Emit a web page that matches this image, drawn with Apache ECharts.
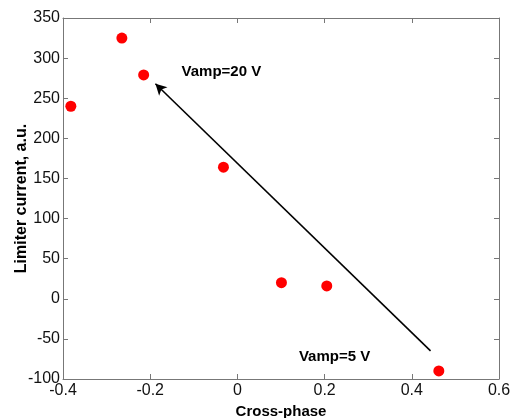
<!DOCTYPE html>
<html>
<head>
<meta charset="utf-8">
<script src="https://cdn.jsdelivr.net/npm/echarts@6/dist/echarts.min.js"></script>
<style>
  html, body { margin: 0; padding: 0; background: #fff; }
  #chart { width: 512px; height: 418px; }
</style>
</head>
<body>
<div id="chart"></div>
<script>
// Measured points: cross-phase vs limiter current
var crossPhase = [-0.382, -0.265, -0.215, -0.032, 0.101, 0.205, 0.462];
var limiterCurrent = [240, 325, 279, 164, 20, 16, -90];

// Arrow from the 5 V end toward the 20 V end
var arrowFrom = [0.443, -65];
var arrowTo = [-0.188, 268];

// Annotation texts and their anchor points (data coordinates)
var noteTexts = ['Vamp=20 V', 'Vamp=5 V'];
var noteAnchors = [[-0.128, 283], [0.141, -72]];

var xTicks = { min: -0.4, max: 0.6, interval: 0.2 };
var yTicks = { min: -100, max: 350, interval: 50 };

var points = crossPhase.map(function (x, i) { return [x, limiterCurrent[i]]; });

var axisGray = '#777777';
var font = 'Liberation Sans, Arial, sans-serif';

function frameAxis(base) {
  return Object.assign({
    type: 'value',
    axisLine: { show: true, onZero: false, lineStyle: { color: axisGray, width: 1 } },
    axisTick: { show: true, inside: true, length: 5, lineStyle: { color: axisGray } },
    splitLine: { show: false }
  }, base);
}

var chart = echarts.init(document.getElementById('chart'), null, { renderer: 'canvas' });
chart.setOption({
  animation: false,
  backgroundColor: '#ffffff',
  grid: { left: 63, right: 13, top: 18, bottom: 39, containLabel: false, outerBoundsMode: 'none' },
  xAxis: [
    frameAxis({
      position: 'bottom',
      min: xTicks.min, max: xTicks.max, interval: xTicks.interval,
      name: 'Cross-phase',
      nameLocation: 'middle',
      nameGap: 25,
      nameMoveOverlap: false,
      nameTextStyle: { fontFamily: font, fontWeight: 'bold', fontSize: 15, color: '#000' },
      axisLabel: { fontFamily: font, fontSize: 16, color: '#111', margin: 4 }
    }),
    frameAxis({
      position: 'top',
      min: xTicks.min, max: xTicks.max, interval: xTicks.interval,
      axisLabel: { show: false }
    })
  ],
  yAxis: [
    frameAxis({
      position: 'left',
      min: yTicks.min, max: yTicks.max, interval: yTicks.interval,
      name: 'Limiter current, a.u.',
      nameLocation: 'middle',
      nameGap: 33,
      nameMoveOverlap: false,
      nameTextStyle: { fontFamily: font, fontWeight: 'bold', fontSize: 16, color: '#000' },
      axisLabel: { fontFamily: font, fontSize: 16, color: '#111', margin: 3 }
    }),
    frameAxis({
      position: 'right',
      min: yTicks.min, max: yTicks.max, interval: yTicks.interval,
      axisLabel: { show: false }
    })
  ],
  series: [
    {
      type: 'scatter',
      data: points,
      symbol: 'circle',
      symbolSize: 11,
      itemStyle: { color: '#ff0000', opacity: 1 },
      markLine: {
        silent: true,
        symbol: ['none', 'arrow'],
        symbolSize: [9, 11],
        label: { show: false },
        lineStyle: { color: '#000', width: 1.6, type: 'solid', opacity: 1 },
        data: [[{ coord: arrowFrom }, { coord: arrowTo }]]
      },
      markPoint: {
        silent: true,
        symbol: 'circle',
        symbolSize: 0,
        label: {
          show: true,
          position: 'right',
          distance: 0,
          fontFamily: font,
          fontWeight: 'bold',
          fontSize: 15,
          color: '#000',
          formatter: function (p) { return p.name; }
        },
        data: noteTexts.map(function (t, i) { return { name: t, coord: noteAnchors[i] }; })
      }
    }
  ]
});
</script>
</body>
</html>
